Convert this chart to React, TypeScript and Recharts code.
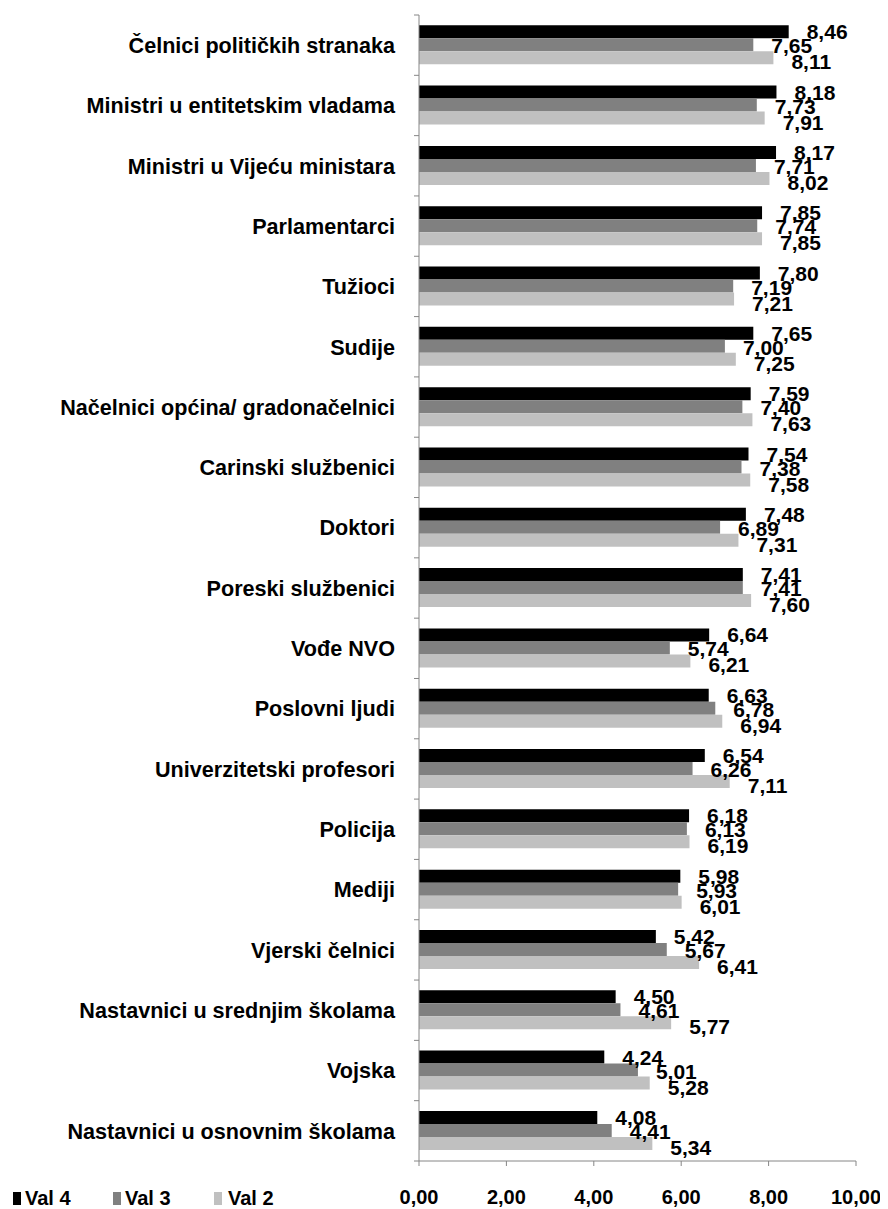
import React from 'react';
import { BarChart, Bar, XAxis, YAxis, LabelList } from 'recharts';

const categories = [
  'Čelnici političkih stranaka',
  'Ministri u entitetskim vladama',
  'Ministri u Vijeću ministara',
  'Parlamentarci',
  'Tužioci',
  'Sudije',
  'Načelnici općina/ gradonačelnici',
  'Carinski službenici',
  'Doktori',
  'Poreski službenici',
  'Vođe NVO',
  'Poslovni ljudi',
  'Univerzitetski profesori',
  'Policija',
  'Mediji',
  'Vjerski čelnici',
  'Nastavnici u srednjim školama',
  'Vojska',
  'Nastavnici u osnovnim školama',
];

const val4 = [8.46, 8.18, 8.17, 7.85, 7.8, 7.65, 7.59, 7.54, 7.48, 7.41, 6.64, 6.63, 6.54, 6.18, 5.98, 5.42, 4.5, 4.24, 4.08];
const val3 = [7.65, 7.73, 7.71, 7.74, 7.19, 7.0, 7.4, 7.38, 6.89, 7.41, 5.74, 6.78, 6.26, 6.13, 5.93, 5.67, 4.61, 5.01, 4.41];
const val2 = [8.11, 7.91, 8.02, 7.85, 7.21, 7.25, 7.63, 7.58, 7.31, 7.6, 6.21, 6.94, 7.11, 6.19, 6.01, 6.41, 5.77, 5.28, 5.34];

const xTicks = [0, 2, 4, 6, 8, 10];

const seriesNames = ['Val 4', 'Val 3', 'Val 2'];
const seriesColors = ['#000000', '#808080', '#C0C0C0'];

const data = categories.map((name, i) => ({ name, v4: val4[i], v3: val3[i], v2: val2[i] }));

const FONT = '"Liberation Sans", Arial, sans-serif';
const fmt = (v: number) => v.toFixed(2).replace('.', ',');

const CHART_W = 880;
const CHART_H = 1201;
const MARGIN = { top: 7, right: 32, left: 0, bottom: 8 };
const X_AXIS_H = 40;
const PLOT_H = CHART_H - MARGIN.top - MARGIN.bottom - X_AXIS_H;
const BAND = PLOT_H / categories.length;

const CategoryTick = (props: any) => {
  const { x, y, payload, index } = props;
  const half = BAND / 2;
  return (
    <g>
      <line x1={x - 5} x2={x} y1={y - half} y2={y - half} stroke="#868686" strokeWidth={1} />
      {index === categories.length - 1 && (
        <line x1={x - 5} x2={x} y1={y + half} y2={y + half} stroke="#868686" strokeWidth={1} />
      )}
      <text
        x={x - 24}
        y={y}
        dy="0.36em"
        textAnchor="end"
        fontFamily={FONT}
        fontWeight="bold"
        fontSize={21.6}
        fill="#000"
      >
        {payload.value}
      </text>
    </g>
  );
};

const makeLabel = (extraDy: number) => (props: any) => {
  const { x, y, width, height, value } = props;
  return (
    <text
      x={Number(x) + Number(width) + 18}
      y={Number(y) + Number(height) / 2 + extraDy}
      dy="0.36em"
      textAnchor="start"
      fontFamily={FONT}
      fontWeight="bold"
      fontSize={21}
      fill="#000"
    >
      {fmt(Number(value))}
    </text>
  );
};

const legendPos = [
  { sq: 5, tx: 17 },
  { sq: 105, tx: 117 },
  { sq: 206, tx: 220 },
];

export default function App() {
  return (
    <div style={{ position: 'relative', width: CHART_W, height: CHART_H }}>
      <BarChart
        width={CHART_W}
        height={CHART_H}
        data={data}
        layout="vertical"
        margin={MARGIN}
        barCategoryGap="17%"
        barGap={0}
      >
        <XAxis
          type="number"
          domain={[0, 10]}
          ticks={xTicks}
          tickFormatter={fmt}
          height={X_AXIS_H}
          axisLine={{ stroke: '#868686' }}
          tickLine={{ stroke: '#868686' }}
          tickSize={5}
          tickMargin={24}
          tick={{ fontFamily: FONT, fontWeight: 'bold', fontSize: 20, fill: '#000' }}
          interval={0}
        />
        <YAxis
          type="category"
          dataKey="name"
          width={411}
          axisLine={{ stroke: '#868686' }}
          tickLine={false}
          tickSize={0}
          tickMargin={0}
          interval={0}
          tick={<CategoryTick />}
        />
        <Bar dataKey="v4" name={seriesNames[0]} fill={seriesColors[0]} isAnimationActive={false}>
          <LabelList dataKey="v4" content={makeLabel(0)} />
        </Bar>
        <Bar dataKey="v3" name={seriesNames[1]} fill={seriesColors[1]} isAnimationActive={false}>
          <LabelList dataKey="v3" content={makeLabel(1)} />
        </Bar>
        <Bar dataKey="v2" name={seriesNames[2]} fill={seriesColors[2]} isAnimationActive={false}>
          <LabelList dataKey="v2" content={makeLabel(4)} />
        </Bar>
      </BarChart>
      {seriesNames.map((n, i) => (
        <div key={n} style={{ position: 'absolute', top: 1180, left: 0, height: 24 }}>
          <div
            style={{
              position: 'absolute',
              left: legendPos[i].sq,
              top: 4,
              width: 8,
              height: 13,
              background: seriesColors[i],
            }}
          />
          <div
            style={{
              position: 'absolute',
              left: legendPos[i].tx,
              top: 0,
              fontFamily: FONT,
              fontWeight: 'bold',
              fontSize: 20,
              lineHeight: '20px',
              whiteSpace: 'nowrap',
              color: '#000',
            }}
          >
            {n}
          </div>
        </div>
      ))}
    </div>
  );
}
